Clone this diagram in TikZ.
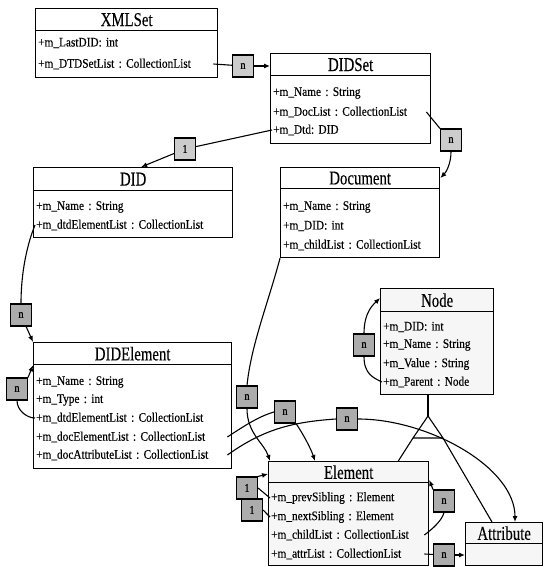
\documentclass[tikz,border=0pt]{standalone}
\usepackage{fontspec}
\newfontfamily\rowfont[FakeStretch=0.87,FakeBold=0.4,WordSpace=0.7]{Liberation Serif}
\newfontfamily\titlefont[FakeStretch=0.76,FakeBold=0.2]{Liberation Serif}
\usetikzlibrary{arrows.meta,calc}
\tikzset{
  hdr/.style={draw,line width=1.3pt,fill=white,anchor=north west,inner sep=0pt,font=\titlefont\fontsize{19.5}{21}\selectfont},
  cls/.style={draw,line width=1.3pt,fill=white,anchor=north west,inner sep=0pt},
  tint/.style={fill=gray!7},
  row/.style={font=\rowfont\fontsize{13}{14}\selectfont\frenchspacing,anchor=west,inner sep=1pt,align=left},
  mult/.style={draw,line width=1.1pt,fill=gray!65,minimum width=21pt,minimum height=22pt,inner sep=0pt,font=\rowfont\fontsize{12}{12}\selectfont},
  multl/.style={mult,fill=gray!40},
  ln/.style={line width=1.1pt},
  arr/.style={-{Latex[length=6pt,width=5pt]},line width=1.1pt}
}
\begin{document}
\begin{tikzpicture}[x=1pt,y=-1pt]
\path[use as bounding box] (0,0) rectangle (543,567);
% classes
\node[hdr,minimum width=182pt,minimum height=22pt] (xmlset) at (35,8) {XMLSet};
\node[cls,minimum width=182pt,minimum height=47pt] (xmlset-body) at (35,30) {};
\node[row,text width=174pt] (xmlset-a) at (37,43) {+m\_LastDID: int};
\node[row,text width=174pt] (xmlset-b) at (37,64) {+m\_DTDSetList : CollectionList};

\node[hdr,minimum width=160pt,minimum height=22pt] (didset) at (270,53) {DIDSet};
\node[cls,minimum width=160pt,minimum height=68pt] (didset-body) at (270,75) {};
\node[row,text width=152pt] (didset-a) at (272,93) {+m\_Name : String};
\node[row,text width=152pt] (didset-b) at (272,112) {+m\_DocList : CollectionList};
\node[row,text width=152pt] (didset-c) at (272,130) {+m\_Dtd: DID};

\node[hdr,minimum width=199pt,minimum height=23pt] (did) at (33,167) {DID};
\node[cls,minimum width=199pt,minimum height=47pt] (did-body) at (33,190) {};
\node[row,text width=191pt] (did-a) at (35,207) {+m\_Name : String};
\node[row,text width=191pt] (did-b) at (35,225) {+m\_dtdElementList : CollectionList};

\node[hdr,minimum width=159pt,minimum height=21pt] (document) at (280,167) {Document};
\node[cls,minimum width=159pt,minimum height=69pt] (document-body) at (280,188) {};
\node[row,text width=151pt] (document-a) at (282,207) {+m\_Name : String};
\node[row,text width=151pt] (document-b) at (282,226) {+m\_DID: int};
\node[row,text width=151pt] (document-c) at (282,245) {+m\_childList : CollectionList};

\node[hdr,minimum width=198pt,minimum height=22pt] (didelem) at (33,342) {DIDElement};
\node[cls,minimum width=198pt,minimum height=104pt] (didelem-body) at (33,364) {};
\node[row,text width=190pt] (didelem-a) at (35,382) {+m\_Name : String};
\node[row,text width=190pt] (didelem-b) at (35,400) {+m\_Type : int};
\node[row,text width=190pt] (didelem-c) at (35,418) {+m\_dtdElementList : CollectionList};
\node[row,text width=190pt] (didelem-d) at (35,437) {+m\_docElementList : CollectionList};
\node[row,text width=190pt] (didelem-e) at (35,455) {+m\_docAttributeList : CollectionList};

\node[hdr,tint,minimum width=113pt,minimum height=23pt] (nodecls) at (380,288) {Node};
\node[cls,tint,minimum width=113pt,minimum height=83pt] (nodecls-body) at (380,311) {};
\node[row,text width=105pt] (nodecls-a) at (382,327) {+m\_DID: int};
\node[row,text width=105pt] (nodecls-b) at (382,345) {+m\_Name : String};
\node[row,text width=105pt] (nodecls-c) at (382,364) {+m\_Value : String};
\node[row,text width=105pt] (nodecls-d) at (382,382) {+m\_Parent : Node};

\node[hdr,tint,minimum width=160pt,minimum height=21pt] (element) at (268,461) {Element};
\node[cls,tint,minimum width=160pt,minimum height=83pt] (element-body) at (268,482) {};
\node[row,text width=152pt] (element-a) at (270,498) {+m\_prevSibling : Element};
\node[row,text width=152pt] (element-b) at (270,517) {+m\_nextSibling : Element};
\node[row,text width=152pt] (element-c) at (270,535) {+m\_childList : CollectionList};
\node[row,text width=152pt] (element-d) at (270,554) {+m\_attrList : CollectionList};

\node[hdr,tint,minimum width=77pt,minimum height=21pt] (attribute) at (465,522) {Attribute};
\node[cls,tint,minimum width=77pt,minimum height=22pt] (attribute-body) at (465,543) {};

% multiplicities
\node[multl] (m1) at (243,66) {n};
\node[multl] (m2) at (185,149) {1};
\node[multl] (m3) at (451,140) {n};
\node[mult] (m4) at (21,315) {n};
\node[mult] (m5) at (17,389) {n};
\node[mult] (m6) at (364,345) {n};
\node[mult] (m7) at (247,397) {n};
\node[mult] (m8) at (285,412) {n};
\node[mult] (m9) at (347,419) {n};
\node[mult] (m10) at (247,488) {1};
\node[mult] (m11) at (252,510) {1};
\node[mult] (m12) at (444,501) {n};
\node[mult] (m13) at (444,555) {n};

% associations
\draw[ln] (xmlset-b.east) -- (m1);
\draw[arr] (m1) -- (m1 -| didset.west);
\draw[ln] (didset-c.west) -- (m2);
\draw[arr] (m2) -- ([xshift=8pt]did.north);
\draw[ln] (didset-b.east) -- (m3.north west);
\draw[arr] (m3.south) .. controls +(0,12) and +(6,-6) .. ([yshift=-11pt]document.north east);
\draw[ln] (did-b.west) .. controls +(-10,25) and +(0,-25) .. (m4.north);
\draw[arr] (m4) -- (didelem.north west);
\draw[arr] (m5.north east) -- (didelem.south west);
\draw[ln] (m5.south) .. controls +(0,10) and +(-8,0) .. (didelem-c.west);
\draw[arr] (m6.north) .. controls +(0,-22) and +(-6,6) .. ([yshift=-10pt]nodecls.north west);
\draw[ln] (m6.south) .. controls +(0,18) and +(-8,-4) .. (nodecls-d.west);
\draw[ln] (document-body.south west) .. controls +(-12,45) and +(4,-40) .. (m7.north);
\draw[arr] (m7.south) .. controls +(0,25) and +(-6,-18) .. ([xshift=2pt]element.north west);
\draw[ln] (didelem-d.east) .. controls +(18,-12) and +(-14,4) .. (m8.west);
\draw[arr] (m8.south east) .. controls +(8,12) and +(-4,-12) .. ([xshift=47pt]element.north west);
\draw[ln] (didelem-e.east) .. controls +(35,-25) and +(-45,3) .. (m9.west);
\draw[arr] (m9.east) .. controls +(70,0) and +(0,-55) .. ([xshift=50pt]attribute.north west);
\draw[arr] (m10.north east) -- ([yshift=-13pt]element.north west);
\draw[ln] (m10.east) -- (element-a.west);
\draw[ln] (m11.east) -- (element-b.west);
\draw[ln] (element-c.east) .. controls +(8,-6) and +(-2,8) .. (m12.south);
\draw[arr] (m12.north west) -- ([yshift=-19pt]element.north east);
\draw[ln] (element-d.east) -- (m13);
\draw[arr] (m13) -- (m13 -| attribute.west);

% generalisation
\coordinate (apex) at (428,416); \coordinate (tl) at (413,438); \coordinate (tr) at (443,438);
\draw[ln] (apex |- nodecls-body.south) -- (apex);
\draw[ln] (apex) -- (tl) -- (tr) -- cycle;
\draw[ln] (tl) -- ([xshift=-31pt]element.north east);
\draw[ln] (tr) -- ([xshift=27pt]attribute.north west);
\end{tikzpicture}
\end{document}
